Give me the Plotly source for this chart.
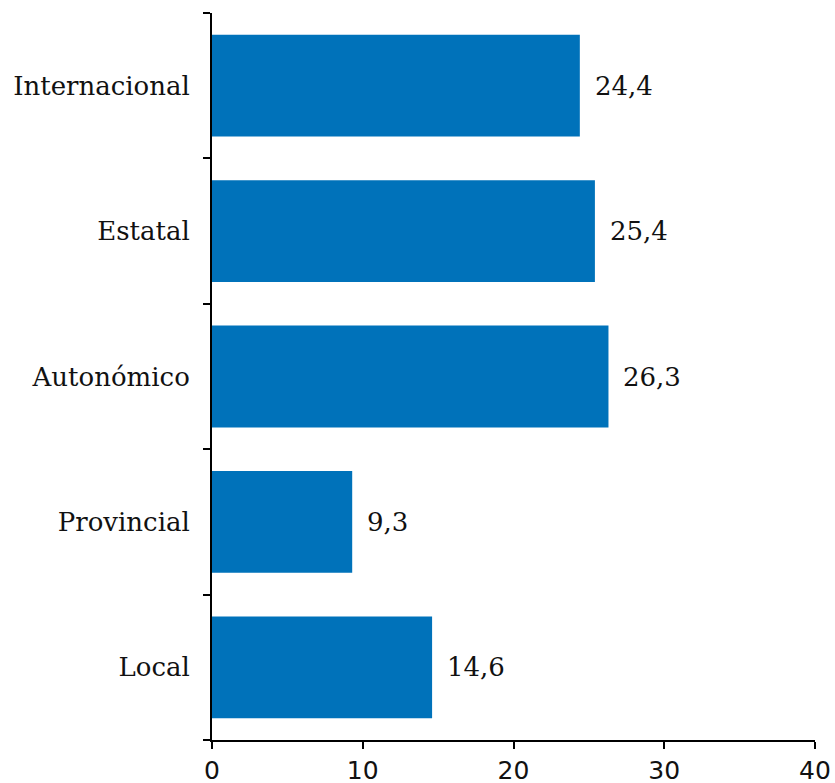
import plotly.graph_objects as go

# Share by territorial scope (%)
categories = ["Local", "Provincial", "Autonómico", "Estatal", "Internacional"]
values = [14.6, 9.3, 26.3, 25.4, 24.4]
x_ticks = [0, 10, 20, 30, 40]

bar_color = "#0072BA"
serif = "DejaVu Serif, Liberation Serif, serif"
sans = "DejaVu Sans, sans-serif"

fig = go.Figure(
    go.Bar(
        y=categories,
        x=values,
        orientation="h",
        marker=dict(color=bar_color, line=dict(width=0)),
        width=0.7,
        hoverinfo="skip",
    )
)

# Value labels to the right of each bar, with comma decimals
for cat, v in zip(categories, values):
    fig.add_annotation(
        x=v, y=cat, xref="x", yref="y",
        text=f"{v:.1f}".replace(".", ","),
        showarrow=False, xanchor="left", yanchor="middle",
        xshift=13,
        font=dict(family=serif, size=26, color="#111111"),
    )

fig.update_layout(
    width=835, height=783,
    margin=dict(l=212, r=20, t=13, b=43, autoexpand=False),
    plot_bgcolor="white", paper_bgcolor="white",
    showlegend=False,
    bargap=0.3,
)

fig.update_xaxes(
    range=[0, 40],
    tickvals=x_ticks,
    ticktext=[str(t) for t in x_ticks],
    showgrid=False, zeroline=False,
    showline=True, linecolor="#000000", linewidth=2,
    ticks="outside", ticklen=7, tickwidth=2, tickcolor="#000000",
    tickfont=dict(family=sans, size=25, color="#111111"),
    automargin=False,
)

fig.update_yaxes(
    categoryorder="array", categoryarray=categories,
    range=[-0.5, 4.5],
    showgrid=False, zeroline=False,
    showline=True, linecolor="#000000", linewidth=2,
    ticks="outside", ticklen=7, tickwidth=2, tickcolor="#000000",
    tickson="boundaries",
    ticklabelstandoff=15,
    tickfont=dict(family=serif, size=26, color="#111111"),
    automargin=False,
)

fig.write_html("out.html")
